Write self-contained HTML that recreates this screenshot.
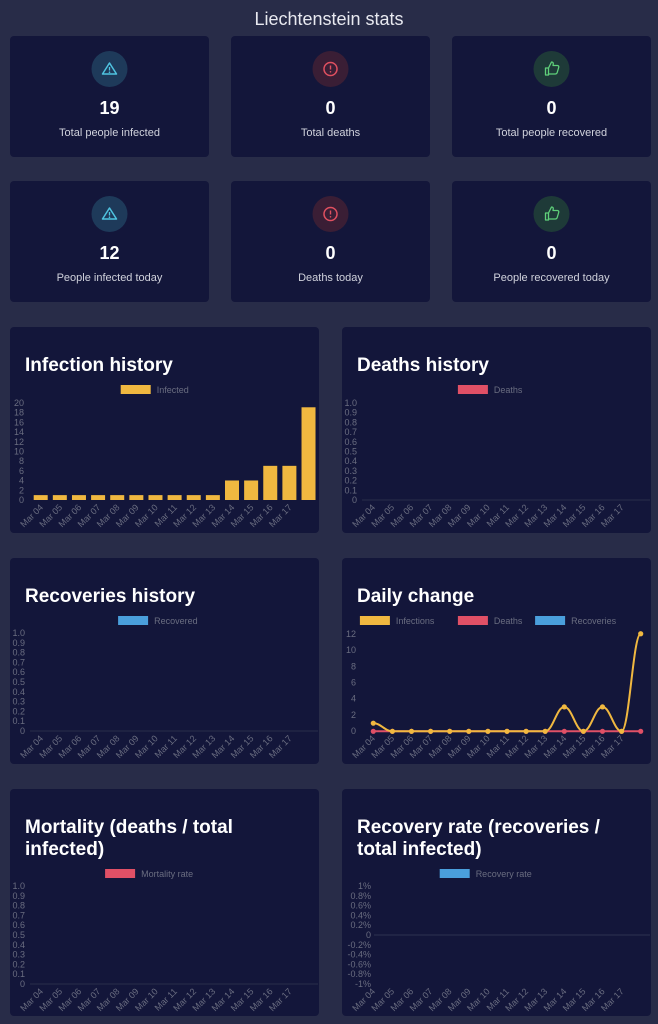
<!DOCTYPE html>
<html><head><meta charset="utf-8"><style>
html,body{margin:0;padding:0;background:#272b47;width:658px;height:1024px;overflow:hidden}
svg{display:block;font-family:"Liberation Sans",sans-serif}
</style></head><body>
<svg id="s" width="658" height="1024" xmlns="http://www.w3.org/2000/svg"></svg>
<script>
let o='';
const bg='<rect width="658" height="1024" fill="#282c48"/>';
o+=bg;
o+='<text x="329" y="25" fill="#e8e9f0" font-size="18" text-anchor="middle">Liechtenstein stats</text>';
function card(x,y,w,h){o+=`<rect x="${x}" y="${y}" width="${w}" height="${h}" rx="4" fill="#13163a"/>`;}
const stats=[[10,36,'19','Total people infected',0],[231,36,'0','Total deaths',1],[452,36,'0','Total people recovered',2],
[10,181,'12','People infected today',0],[231,181,'0','Deaths today',1],[452,181,'0','People recovered today',2]];
const ic=[['#1e3a5a','#4fc3e0'],['#3a1e35','#e05060'],['#1e3a38','#5fd07a']];
for(const [x,y,n,l,t] of stats){
 card(x,y,199,121);const cx=x+99.5,cy=y+33;
 o+=`<circle cx="${cx}" cy="${cy}" r="18" fill="${ic[t][0]}"/>`;
 const c=ic[t][1];
 if(t==0)o+=`<path d="M${cx} ${cy-6} L${cx+7} ${cy+5} L${cx-7} ${cy+5}Z" fill="none" stroke="${c}" stroke-width="1.5" stroke-linejoin="round"/><line x1="${cx}" y1="${cy-2}" x2="${cx}" y2="${cy+1.5}" stroke="${c}" stroke-width="1.3"/><circle cx="${cx}" cy="${cy+3.2}" r=".8" fill="${c}"/>`;
 if(t==1)o+=`<circle cx="${cx}" cy="${cy}" r="6.5" fill="none" stroke="${c}" stroke-width="1.5"/><line x1="${cx}" y1="${cy-3.5}" x2="${cx}" y2="${cy+0.5}" stroke="${c}" stroke-width="1.4"/><circle cx="${cx}" cy="${cy+2.8}" r=".8" fill="${c}"/>`;
 if(t==2)o+=`<path d="M${cx-6} ${cy-1}h3v7h-3z M${cx-3} ${cy-1}l3-6c2 0 2 1.5 1.5 3.5h4.5c1 0 1.5 1 1.2 2l-1.5 5c-.3 1-1 1.5-2 1.5h-6.7z" fill="none" stroke="${c}" stroke-width="1.3" stroke-linejoin="round"/>`;
 o+=`<text x="${cx}" y="${y+78}" fill="#fff" font-size="18" font-weight="bold" text-anchor="middle">${n}</text>`;
 o+=`<text x="${cx}" y="${y+100}" fill="#d0d2dc" font-size="11" text-anchor="middle">${l}</text>`;
}
const labs=['Mar 04','Mar 05','Mar 06','Mar 07','Mar 08','Mar 09','Mar 10','Mar 11','Mar 12','Mar 13','Mar 14','Mar 15','Mar 16','Mar 17'];
function chart(cx0,cy0,h,titles,legend,ytick,ytop,ybot,labelX,xlabY,extra){
 card(cx0,cy0,309,h);
 titles.forEach((t,i)=>o+=`<text x="${cx0+15}" y="${cy0+44+i*22}" fill="#fff" font-size="19" font-weight="bold">${t}</text>`);
 const ly=titles.length==1?cy0+63:cy0+85;
 let tw=legend.reduce((a,l)=>a+36+l[0].length*5.2+10,0);let lx=cx0+154.5-tw/2;
 for(const [n,c] of legend){o+=`<rect x="${lx}" y="${ly-5}" width="30" height="9" fill="${c}"/><text x="${lx+36}" y="${ly+3}" fill="#6a6d80" font-size="9">${n}</text>`;lx+=36+n.length*5.2+10;}
 ytick.forEach((t,i)=>{const y=ytop+(ybot-ytop)*i/(ytick.length-1);o+=`<text x="${labelX}" y="${y+3}" fill="#6a6d80" font-size="9" text-anchor="end">${t}</text>`;});
 for(let i=0;i<14;i++){const x=cx0+30.7+19.13*i;o+=`<text transform="translate(${x+3},${xlabY}) rotate(-45)" fill="#6a6d80" font-size="9" text-anchor="end">${labs[i]}</text>`;}
 if(extra)extra();
}
const inf=[1,1,1,1,1,1,1,1,1,1,4,4,7,7,19];
chart(10,327,206,['Infection history'],[['Infected','#f0b840']],['20','18','16','14','12','10','8','6','4','2','0'],403,500,24,508,()=>{
 inf.forEach((v,i)=>{const x=40.7+19.13*i,h=v*4.88;o+=`<rect x="${x-7}" y="${500-h}" width="14" height="${h}" fill="#f0b840"/>`;});
});
const t10=['1.0','0.9','0.8','0.7','0.6','0.5','0.4','0.3','0.2','0.1','0'];
chart(342,327,206,['Deaths history'],[['Deaths','#e05066']],t10,403,500,357,508,()=>{o+=`<line x1="362" y1="500" x2="650" y2="500" stroke="#2a2d4a"/>`;});
chart(10,558,206,['Recoveries history'],[['Recovered','#4a9fdc']],t10,633,731,25,739,()=>{o+=`<line x1="30" y1="731" x2="318" y2="731" stroke="#2a2d4a"/>`;});
chart(342,558,206,['Daily change'],[['Infections','#f0b840'],['Deaths','#e05066'],['Recoveries','#4a9fdc']],['12','10','8','6','4','2','0'],634,731,356,739,()=>{
 const d=[1,0,0,0,0,0,0,0,0,0,3,0,3,0,12];
 const P=d.map((v,i)=>[373.3+19.1*i,731.3-v*8.13]);
 o+=`<line x1="373" y1="731.3" x2="641" y2="731.3" stroke="#e05066" stroke-width="2"/>`;
 P.forEach(p=>o+=`<circle cx="${p[0]}" cy="731.3" r="2.6" fill="#e05066"/>`);
 let path=`M${P[0][0]} ${P[0][1]}`;
 for(let i=0;i<P.length-1;i++){const a=P[i],b=P[i+1],dx=(b[0]-a[0])*0.4;path+=` C${a[0]+dx} ${a[1]} ${b[0]-dx} ${b[1]} ${b[0]} ${b[1]}`;}
 o+=`<path d="${path}" fill="none" stroke="#f0b840" stroke-width="2"/>`;
 P.forEach(p=>o+=`<circle cx="${p[0]}" cy="${p[1]}" r="2.6" fill="#f0b840"/>`);
});
chart(10,789,227,['Mortality (deaths / total','infected)'],[['Mortality rate','#e05066']],t10,886,984,25,992,()=>{o+=`<line x1="30" y1="984" x2="318" y2="984" stroke="#2a2d4a"/>`;});
chart(342,789,227,['Recovery rate (recoveries /','total infected)'],[['Recovery rate','#4a9fdc']],['1%','0.8%','0.6%','0.4%','0.2%','0','-0.2%','-0.4%','-0.6%','-0.8%','-1%'],886,984,371,992,()=>{o+=`<line x1="374" y1="935" x2="650" y2="935" stroke="#2e3150"/>`;});
document.getElementById('s').innerHTML=o;
</script>
</body></html>
